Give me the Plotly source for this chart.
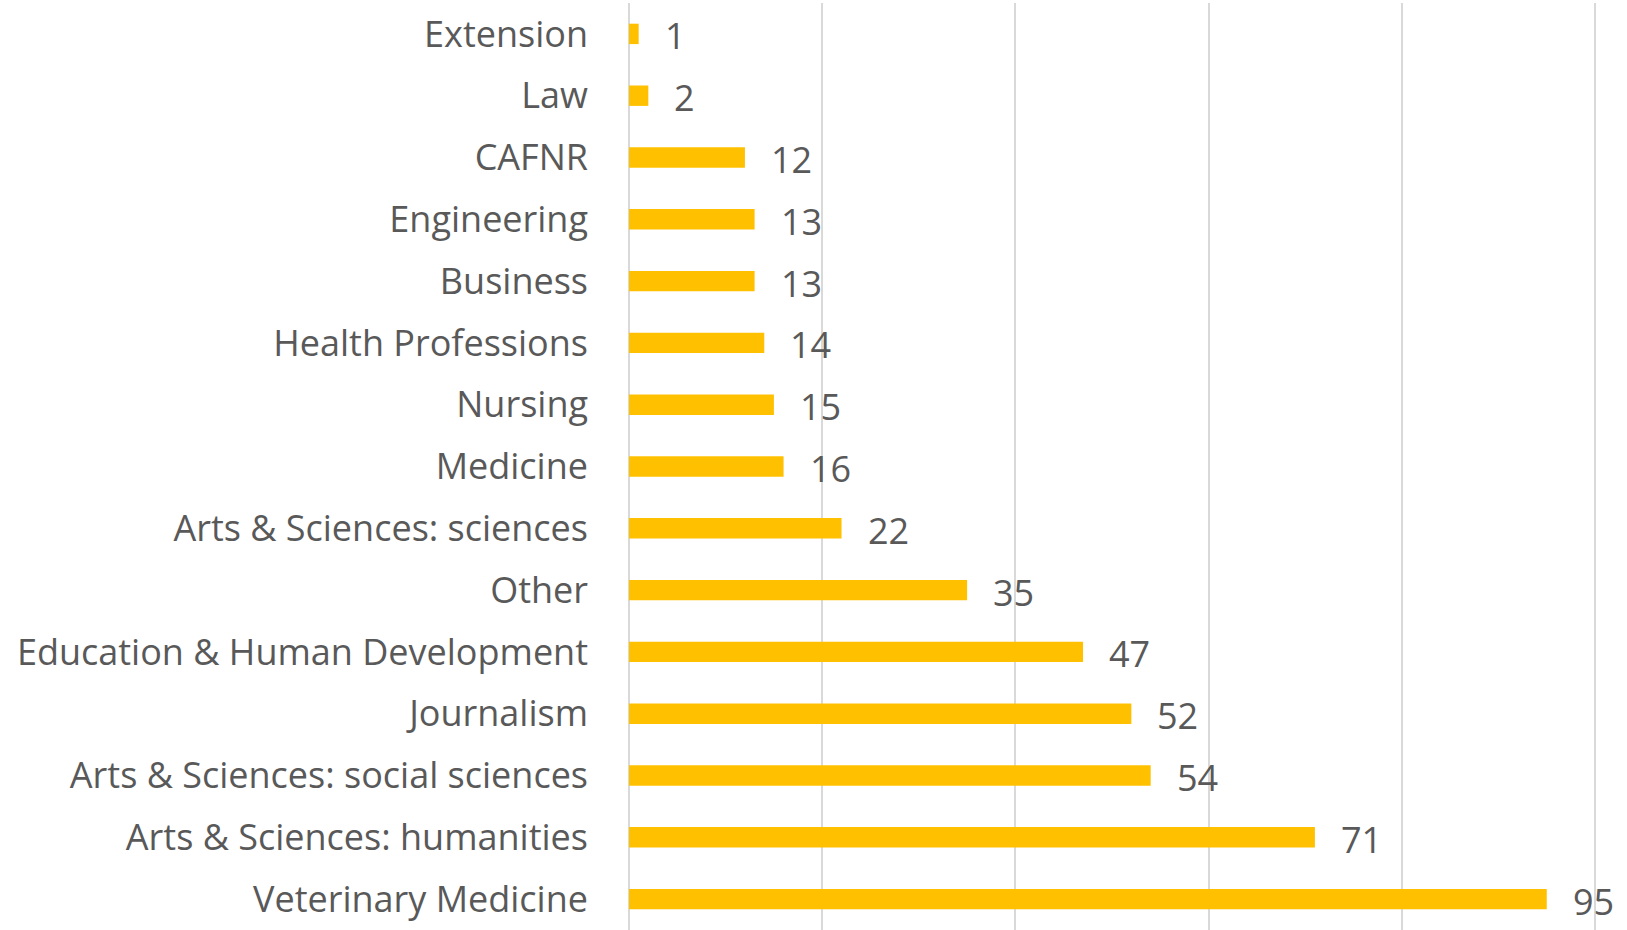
import plotly.graph_objects as go

categories = [
    "Extension", "Law", "CAFNR", "Engineering", "Business",
    "Health Professions", "Nursing", "Medicine", "Arts & Sciences: sciences",
    "Other", "Education & Human Development", "Journalism",
    "Arts & Sciences: social sciences", "Arts & Sciences: humanities",
    "Veterinary Medicine",
]
values = [1, 2, 12, 13, 13, 14, 15, 16, 22, 35, 47, 52, 54, 71, 95]

BAR = "#FFC000"
TXT = "#595959"
FONT = "Open Sans"
FS = 36

fig = go.Figure()
fig.add_trace(go.Bar(
    x=values, y=categories, orientation="h",
    marker=dict(color=BAR, line=dict(width=0)),
    width=0.33, hoverinfo="skip",
))
for c, v in zip(categories, values):
    fig.add_annotation(x=v, y=c, text=str(v), showarrow=False,
                       xanchor="left", yanchor="middle", xshift=24, yshift=-2,
                       font=dict(family=FONT, size=FS, color=TXT))

fig.update_layout(
    width=1627, height=930,
    margin=dict(l=629, r=30, t=3, b=0, autoexpand=False),
    paper_bgcolor="white", plot_bgcolor="white",
    showlegend=False,
    font=dict(family=FONT, size=FS, color=TXT),
)
fig.update_xaxes(range=[0, 100.2], tickvals=[20, 40, 60, 80, 100], showgrid=True,
                 gridcolor="#d9d9d9", gridwidth=2, showticklabels=False,
                 zeroline=True, zerolinecolor="#d9d9d9", zerolinewidth=2,
                 showline=False, fixedrange=True)
fig.update_yaxes(autorange="reversed", showgrid=False, showline=False,
                 ticks="", ticklabelstandoff=40, automargin=False,
                 tickfont=dict(family=FONT, size=FS, color=TXT))

fig.write_html("out.html", config={"displayModeBar": False},
               post_script="document.body.style.margin='0px';document.body.style.overflow='hidden';")
